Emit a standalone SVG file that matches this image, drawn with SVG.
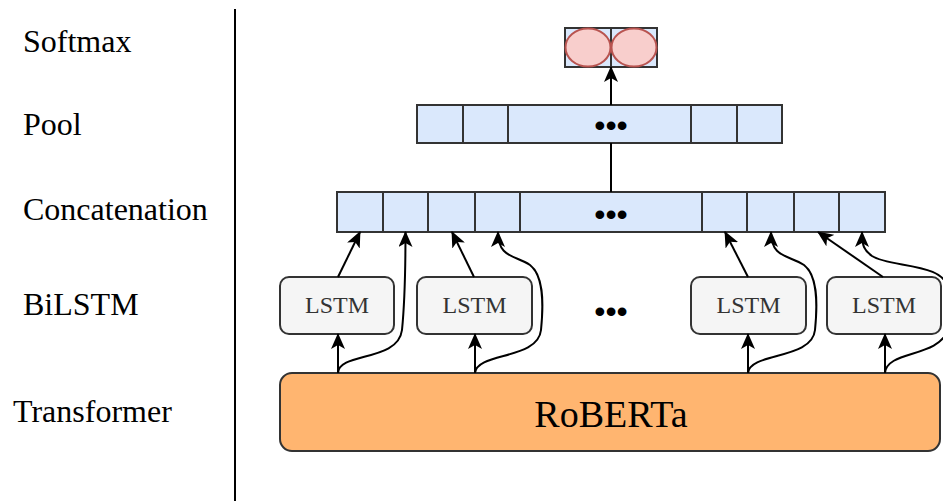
<svg xmlns="http://www.w3.org/2000/svg" width="943" height="501" viewBox="0 0 943 501">
<style>
.cell{fill:#dae8fc;stroke:#333;stroke-width:2}
.lstm{fill:#f5f5f5;stroke:#333;stroke-width:2}
.dots{font-family:'Liberation Sans',Arial,sans-serif;font-size:32px;fill:#000;text-anchor:middle}
.con{fill:none;stroke:#000;stroke-width:2}
</style>
<defs>
<marker id="ah" markerUnits="userSpaceOnUse" markerWidth="16" markerHeight="14" viewBox="0 0 16 14" refX="15" refY="7" orient="auto">
<path d="M0,0 L16,7 L0,14 L4,7 z" fill="#000"/>
</marker>
</defs>
<rect width="943" height="501" fill="#fff"/>
<g id="labels" font-family="'Liberation Serif','Times New Roman',serif" font-size="32" fill="#000">
<text x="23" y="52">Softmax</text>
<text x="23" y="135">Pool</text>
<text x="23" y="220">Concatenation</text>
<text x="23" y="315">BiLSTM</text>
<text x="13" y="422">Transformer</text>
<line x1="235" y1="9" x2="235" y2="501" stroke="#000" stroke-width="2"/>
</g>
<g id="softmax">
<rect class="cell" x="565" y="28" width="46" height="39"/>
<rect class="cell" x="611" y="28" width="46" height="39"/>
<ellipse cx="588" cy="47.5" rx="22.5" ry="19" fill="#f8cecc" stroke="#b85450" stroke-width="2"/>
<ellipse cx="634" cy="47.5" rx="22.5" ry="19" fill="#f8cecc" stroke="#b85450" stroke-width="2"/>
</g>
<g id="pool">
<rect class="cell" x="417" y="105" width="46" height="38"/>
<rect class="cell" x="463" y="105" width="45" height="38"/>
<rect class="cell" x="508" y="105" width="183" height="38"/>
<rect class="cell" x="691" y="105" width="46" height="38"/>
<rect class="cell" x="737" y="105" width="45" height="38"/>
<text class="dots" x="611" y="136">•••</text>
</g>
<g id="concat">
<rect class="cell" x="337" y="192" width="46" height="40"/>
<rect class="cell" x="383" y="192" width="45" height="40"/>
<rect class="cell" x="428" y="192" width="47" height="40"/>
<rect class="cell" x="475" y="192" width="45" height="40"/>
<rect class="cell" x="520" y="192" width="182" height="40"/>
<rect class="cell" x="702" y="192" width="45" height="40"/>
<rect class="cell" x="747" y="192" width="47" height="40"/>
<rect class="cell" x="794" y="192" width="45" height="40"/>
<rect class="cell" x="839" y="192" width="46" height="40"/>
<text class="dots" x="611" y="225">•••</text>
</g>
<g font-family="'Liberation Serif','Times New Roman',serif" font-size="24" fill="#333" text-anchor="middle">
<g id="lstm1"><rect class="lstm" x="280" y="277" width="114" height="57" rx="9"/><text x="337" y="313">LSTM</text></g>
<g id="lstm2"><rect class="lstm" x="417" y="277" width="115" height="57" rx="9"/><text x="474.5" y="313">LSTM</text></g>
<g id="lstm3"><rect class="lstm" x="691" y="277" width="115" height="57" rx="9"/><text x="748.5" y="313">LSTM</text></g>
<g id="lstm4"><rect class="lstm" x="827" y="277" width="114" height="57" rx="9"/><text x="884" y="313">LSTM</text></g>
</g>
<g id="bilstm-dots"><text class="dots" x="611" y="322">•••</text></g>
<g id="roberta">
<rect x="280" y="373" width="660" height="78" rx="12" fill="#ffb570" stroke="#333" stroke-width="2"/>
<text x="611" y="427" font-family="'Liberation Serif','Times New Roman',serif" font-size="38" text-anchor="middle">RoBERTa</text>
</g>
<g id="connectors">
<path class="con" d="M611,192 L611,143"/>
<path class="con" d="M611,105 L611,67" marker-end="url(#ah)"/>
<path class="con" d="M338,373 L338,334" marker-end="url(#ah)"/>
<path class="con" d="M475,373 L475,334" marker-end="url(#ah)"/>
<path class="con" d="M748,373 L748,334" marker-end="url(#ah)"/>
<path class="con" d="M885,373 L885,334" marker-end="url(#ah)"/>
<path class="con" d="M338,277 L360,232" marker-end="url(#ah)"/>
<path class="con" d="M474,277 L452,232" marker-end="url(#ah)"/>
<path class="con" d="M748,277 L725,232" marker-end="url(#ah)"/>
<path class="con" d="M883,277 L818,232" marker-end="url(#ah)"/>
<path class="con" d="M338,373 C339,352 398,362 402,330 C405,300 405.5,270 405.5,232" marker-end="url(#ah)"/>
<path class="con" d="M475,373 C477,352 538,360 541,330 C544,300 543,275 530,265 C515,255 498,258 498,232" marker-end="url(#ah)"/>
<path class="con" d="M748,373 C750,352 812,360 815,330 C818,300 817,275 804,265 C789,255 771,258 771,232" marker-end="url(#ah)"/>
<path class="con" d="M885,373 C887,350 938,358 948,330 L948,290 C946,262 890,268 872,256 C864,250 862,246 862,232" marker-end="url(#ah)"/>
</g>
</svg>
